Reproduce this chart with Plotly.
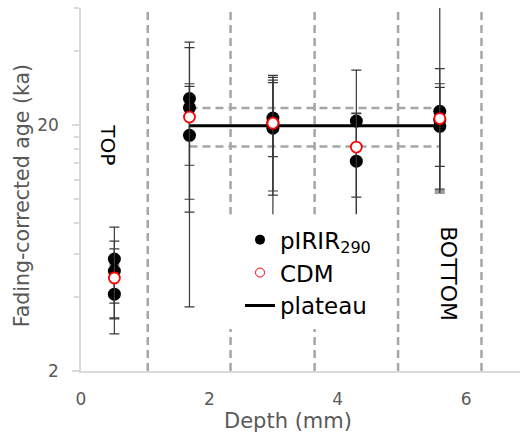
import math
import plotly.graph_objects as go

# ---------------- data ----------------
slice_edges_mm = [1.04, 2.33, 3.64, 4.94, 6.24]

pirir_depth = [0.52, 0.52, 0.52,
               1.69, 1.69, 1.69,
               2.99, 2.99, 2.99,
               4.29, 4.29,
               5.59, 5.59, 5.59]
pirir_age = [5.71, 5.10, 4.11,
             25.7, 23.6, 18.2,
             21.4, 20.4, 19.45,
             20.8, 14.28,
             22.8, 21.0, 19.8]
pirir_err_plus = [1.99, 1.65, 1.28,
                  15.7, 20.0, 10.6,
                  10.5, 10.1, 11.85,
                  12.7, 8.0,
                  11.2, 45.0, 9.7]
pirir_err_minus = [1.93, 1.81, 1.28,
                   15.7, 19.95, 9.33,
                   10.6, 10.0, 11.8,
                   12.7, 8.0,
                   11.8, 10.2, 9.2]

cdm_depth = [0.52, 1.69, 2.99, 4.29, 5.59]
cdm_age = [4.78, 21.6, 20.4, 16.3, 21.3]
cdm_err_plus = [1.5, 7.9, 9.4, 6.1, 7.2]
cdm_err_minus = [1.52, 7.85, 5.5, 6.1, 7.7]

plateau_depth = [1.69, 5.59]
plateau_age = 19.9
plateau_low = 16.4
plateau_high = 23.5

y_min, y_max = 2, 60
x_min, x_max = 0, 6.84
y_major_ticks = [2, 20]
y_minor_ticks = [4, 6, 8, 10, 12, 14, 16, 18, 40, 60]
x_ticks = [0, 2, 4, 6]

# ---------------- styles ----------------
GRAY_DASH = "#A6A6A6"
AXIS_GRAY = "#D9D9D9"
TEXT_GRAY = "#595959"
ERR_COLOR = "#3A3A3A"
FONT = "DejaVu Sans"
AX_FONT = "DejaVu Sans"

fig = go.Figure()

# slice boundaries
for edge in slice_edges_mm:
    fig.add_trace(go.Scatter(
        x=[edge, edge], y=[y_min, y_max], mode="lines",
        line=dict(color=GRAY_DASH, width=2.5, dash="8px,5px"),
        showlegend=False, hoverinfo="skip"))

# plateau band
for val in (plateau_high, plateau_low):
    fig.add_trace(go.Scatter(
        x=plateau_depth, y=[val, val], mode="lines",
        line=dict(color=GRAY_DASH, width=2.5, dash="8px,5px"),
        showlegend=False, hoverinfo="skip"))
fig.add_trace(go.Scatter(
    x=plateau_depth, y=[plateau_age, plateau_age], mode="lines",
    line=dict(color="black", width=3), showlegend=False, hoverinfo="skip"))

# pIRIR points
fig.add_trace(go.Scatter(
    x=pirir_depth, y=pirir_age, mode="markers",
    marker=dict(color="black", size=13),
    error_y=dict(type="data", symmetric=False, array=pirir_err_plus,
                 arrayminus=pirir_err_minus, color=ERR_COLOR,
                 thickness=1.2, width=5),
    showlegend=False))

# CDM points
fig.add_trace(go.Scatter(
    x=cdm_depth, y=cdm_age, mode="markers",
    marker=dict(color="white", size=11, line=dict(color="#FF0000", width=1.8)),
    error_y=dict(type="data", symmetric=False, array=cdm_err_plus,
                 arrayminus=cdm_err_minus, color=ERR_COLOR,
                 thickness=1.2, width=5),
    showlegend=False))

# legend entries
fig.add_trace(go.Scatter(x=[None], y=[None], mode="markers",
                         marker=dict(color="black", size=10),
                         name="pIRIR<sub>290</sub>"))
fig.add_trace(go.Scatter(x=[None], y=[None], mode="markers",
                         marker=dict(color="white", size=9,
                                     line=dict(color="#FF0000", width=1)),
                         name="CDM"))
fig.add_trace(go.Scatter(x=[None], y=[None], mode="lines",
                         line=dict(color="black", width=3),
                         name="plateau"))

W, H = 520, 438
L, R, T, B = 81, 0, 7.5, 67
pw, ph = W - L - R, H - T - B

def px_x(p):
    return (p - L) / pw

def px_y(p):
    return (H - B - p) / ph

# white box behind legend
fig.add_shape(type="rect", xref="paper", yref="paper",
              x0=px_x(200), x1=px_x(396), y0=px_y(329), y1=px_y(214),
              fillcolor="white", line=dict(width=0), layer="above")

ann_common = dict(xref="paper", yref="paper", showarrow=False,
                  xanchor="center", yanchor="middle")
fig.add_annotation(text="TOP", x=px_x(108), y=px_y(144), textangle=90,
                   font=dict(family=FONT, size=20, color="black"), **ann_common)
fig.add_annotation(text="BOTTOM", x=px_x(449), y=px_y(273), textangle=90,
                   font=dict(family=FONT, size=22, color="black"), **ann_common)
fig.add_annotation(text="Fading-corrected age (ka)", x=px_x(22), y=px_y(196),
                   textangle=-90,
                   font=dict(family=AX_FONT, size=20.5, color=TEXT_GRAY), **ann_common)
fig.add_annotation(text="Depth (mm)", x=px_x(288), y=px_y(421),
                   font=dict(family=AX_FONT, size=21, color=TEXT_GRAY), **ann_common)

fig.update_layout(
    width=W, height=H,
    margin=dict(l=L, r=R, t=T, b=B, pad=0),
    paper_bgcolor="white", plot_bgcolor="white",
    showlegend=True,
    legend=dict(x=px_x(240), y=px_y(218), xanchor="left", yanchor="top",
                bgcolor="rgba(0,0,0,0)", borderwidth=0,
                font=dict(family=FONT, size=23, color="black"),
                tracegroupgap=0),
    xaxis=dict(range=[x_min, x_max], tickvals=x_ticks, showgrid=False,
               zeroline=False, showline=True, linecolor=AXIS_GRAY, linewidth=1.5,
               ticks="", ticklabelstandoff=12,
               tickfont=dict(family=AX_FONT, size=17, color=TEXT_GRAY)),
    yaxis=dict(type="log", range=[math.log10(y_min), math.log10(y_max)],
               tickvals=y_major_ticks, ticktext=[str(v) for v in y_major_ticks],
               showgrid=False, zeroline=False, showline=True,
               linecolor=AXIS_GRAY, linewidth=1.5,
               ticks="outside", ticklen=7, tickcolor=AXIS_GRAY, tickwidth=1.5,
               ticklabelstandoff=10,
               tickfont=dict(family=AX_FONT, size=17, color=TEXT_GRAY),
               minor=dict(tickvals=y_minor_ticks, ticks="outside", ticklen=5,
                          tickcolor=AXIS_GRAY, tickwidth=1.5, showgrid=False)),
)

fig.write_html("out.html", config={"displayModeBar": False},
               post_script="document.body.style.margin='0';")
